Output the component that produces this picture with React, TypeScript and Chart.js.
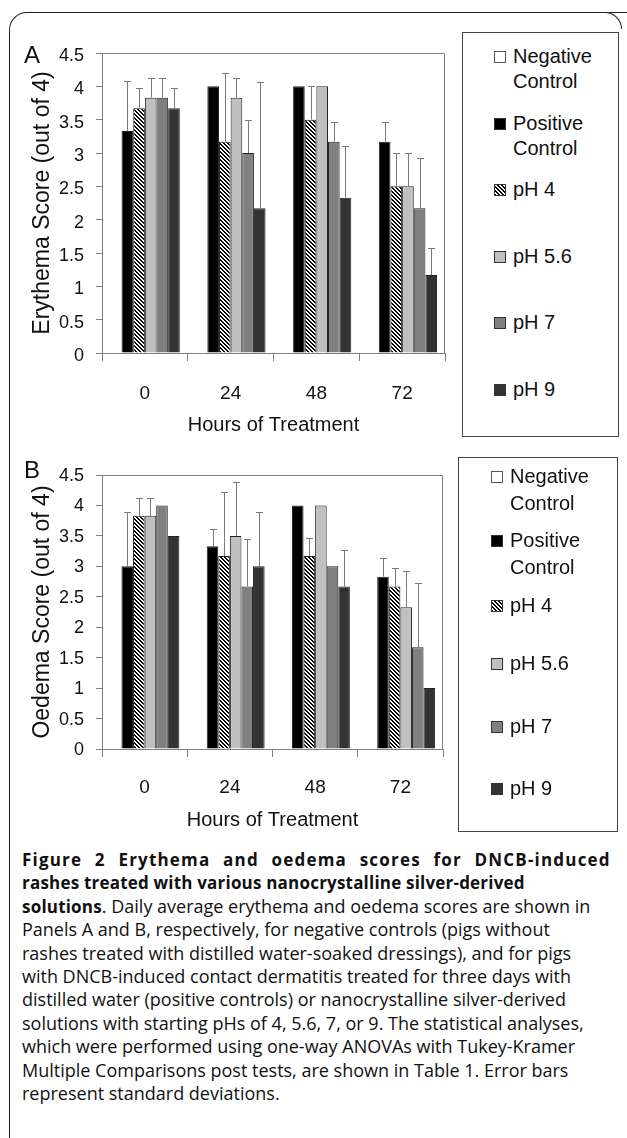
import React, { useEffect, useRef } from 'react';
import { Chart, registerables } from 'chart.js';

Chart.register(...registerables);

// ---------- data ----------
const categories = ['0', '24', '48', '72'];
const seriesNames = ['Negative Control', 'Positive Control', 'pH 4', 'pH 5.6', 'pH 7', 'pH 9'];
const yTickLabels = ['0', '0.5', '1', '1.5', '2', '2.5', '3', '3.5', '4', '4.5'];

// Panel A – erythema
const negA = [0, 0, 0, 0];
const posA = [3.33, 4.0, 4.0, 3.17];
const ph4A = [3.67, 3.17, 3.5, 2.5];
const ph56A = [3.83, 3.83, 4.0, 2.5];
const ph7A = [3.83, 3.0, 3.17, 2.17];
const ph9A = [3.67, 2.17, 2.33, 1.17];
const negAErr = [0, 0, 0, 0];
const posAErr = [0.75, 0, 0, 0.29];
const ph4AErr = [0.3, 1.03, 0.5, 0.5];
const ph56AErr = [0.29, 0.29, 0, 0.5];
const ph7AErr = [0.29, 0.5, 0.29, 0.75];
const ph9AErr = [0.3, 1.89, 0.77, 0.41];

// Panel B – oedema
const negB = [0, 0, 0, 0];
const posB = [3.0, 3.33, 4.0, 2.83];
const ph4B = [3.83, 3.17, 3.17, 2.67];
const ph56B = [3.83, 3.5, 4.0, 2.33];
const ph7B = [4.0, 2.67, 3.0, 1.67];
const ph9B = [3.5, 3.0, 2.67, 1.0];
const negBErr = [0, 0, 0, 0];
const posBErr = [0.89, 0.29, 0, 0.31];
const ph4BErr = [0.29, 1.05, 0.29, 0.31];
const ph56BErr = [0.29, 0.89, 0, 0.6];
const ph7BErr = [0, 0.78, 0, 1.05];
const ph9BErr = [0, 0.89, 0.6, 0];

const captionLines: { bold?: string; text: string; wordSpacing?: number; letterSpacing?: number }[] = [
  { bold: 'Figure 2 Erythema and oedema scores for DNCB-induced', text: '', wordSpacing: 7, letterSpacing: 1.2 },
  { bold: 'rashes treated with various nanocrystalline silver-derived', text: '' },
  { bold: 'solutions', text: '. Daily average erythema and oedema scores are shown in' },
  { text: 'Panels A and B, respectively, for negative controls (pigs without' },
  { text: 'rashes treated with distilled water-soaked dressings), and for pigs' },
  { text: 'with DNCB-induced contact dermatitis treated for three days with' },
  { text: 'distilled water (positive controls) or nanocrystalline silver-derived' },
  { text: 'solutions with starting pHs of 4, 5.6, 7, or 9. The statistical analyses,' },
  { text: 'which were performed using one-way ANOVAs with Tukey-Kramer' },
  { text: 'Multiple Comparisons post tests, are shown in Table 1. Error bars' },
  { text: 'represent standard deviations.' },
];

// ---------- styles ----------
const FONT = "'Liberation Sans', Arial, sans-serif";
const AXIS_GRAY = '#808080';
const fills = ['#ffffff', '#000000', 'HATCH', '#c0c0c0', '#808080', '#333333'];

function makeHatch(): CanvasPattern | string {
  const c = document.createElement('canvas');
  c.width = 4;
  c.height = 4;
  const ctx = c.getContext('2d');
  if (!ctx) return '#888';
  const img = ctx.createImageData(4, 4);
  for (let y = 0; y < 4; y++) {
    for (let x = 0; x < 4; x++) {
      const i = (y * 4 + x) * 4;
      const black = ((x - y + 8) % 4) < 2;
      const v = black ? 0 : 255;
      img.data[i] = v;
      img.data[i + 1] = v;
      img.data[i + 2] = v;
      img.data[i + 3] = 255;
    }
  }
  ctx.putImageData(img, 0, 0);
  return ctx.createPattern(c, 'repeat') || '#888';
}

const errorBarPlugin = {
  id: 'errorBars',
  afterDatasetsDraw(chart: any, _args: any, opts: any) {
    const errs: number[][] = opts.errors || [];
    const ctx = chart.ctx;
    const yScale = chart.scales.y;
    ctx.save();
    ctx.strokeStyle = opts.color || '#777';
    ctx.lineWidth = 1;
    chart.data.datasets.forEach((ds: any, i: number) => {
      const e = errs[i];
      if (!e) return;
      const meta = chart.getDatasetMeta(i);
      meta.data.forEach((bar: any, j: number) => {
        const err = e[j];
        if (!err) return;
        const v = ds.data[j] as number;
        const x = Math.round(bar.x) + 0.5;
        const yTop = Math.round(yScale.getPixelForValue(v + err)) + 0.5;
        ctx.beginPath();
        ctx.moveTo(x, bar.y);
        ctx.lineTo(x, yTop);
        ctx.moveTo(x - 3.5, yTop);
        ctx.lineTo(x + 3.5, yTop);
        ctx.stroke();
      });
    });
    ctx.restore();
  },
};

const framePlugin = {
  id: 'plotFrame',
  beforeDatasetsDraw(chart: any) {
    const { ctx, chartArea } = chart;
    ctx.save();
    ctx.strokeStyle = AXIS_GRAY;
    ctx.lineWidth = 1;
    const t = Math.round(chartArea.top) + 0.5;
    const r = Math.round(chartArea.right) - 0.5;
    ctx.beginPath();
    ctx.moveTo(chartArea.left, t);
    ctx.lineTo(r, t);
    ctx.lineTo(r, chartArea.bottom);
    ctx.stroke();
    ctx.restore();
  },
};

interface PanelSpec {
  values: number[][];
  errors: number[][];
  yTitle: string;
  padTop: number;
  padRight: number;
  padBottom: number;
  xHeight: number;
  xPad: number;
  labelOffset: number;
}

function buildConfig(spec: PanelSpec, hatch: CanvasPattern | string): any {
  return {
    type: 'bar',
    data: {
      labels: categories,
      datasets: spec.values.map((vals, i) => ({
        label: seriesNames[i],
        data: vals,
        backgroundColor: fills[i] === 'HATCH' ? hatch : fills[i],
        borderColor: '#222222',
        borderWidth: 1,
        barPercentage: 1,
        categoryPercentage: 0.815,
      })),
    },
    options: {
      responsive: false,
      animation: false,
      events: [],
      layout: { padding: { left: 0, top: spec.padTop, right: spec.padRight, bottom: spec.padBottom } },
      plugins: {
        legend: { display: false },
        tooltip: { enabled: false },
        errorBars: { errors: spec.errors, color: '#7a7a7a' },
      },
      scales: {
        x: {
          grid: { offset: true, drawOnChartArea: false, drawTicks: true, tickLength: 8, color: AXIS_GRAY },
          border: { color: AXIS_GRAY },
          ticks: { font: { family: FONT, size: 19 }, color: '#111', padding: spec.xPad, maxRotation: 0 },
          title: { display: true, text: 'Hours of Treatment', font: { family: FONT, size: 20 }, color: '#111', padding: 0 },
          afterFit: (s: any) => {
            s.height = spec.xHeight;
          },
        },
        y: {
          min: 0,
          max: 4.5,
          grid: { drawOnChartArea: false, drawTicks: true, tickLength: 6, color: AXIS_GRAY },
          border: { color: AXIS_GRAY },
          ticks: {
            stepSize: 0.5,
            autoSkip: false,
            font: { family: FONT, size: 18 },
            color: '#111',
            padding: 12,
            labelOffset: spec.labelOffset,
            callback: (_v: any, i: number) => yTickLabels[i],
          },
          title: { display: true, text: spec.yTitle, font: { family: FONT, size: 23 }, color: '#111', padding: { top: 29, bottom: 0 } },
          afterFit: (s: any) => {
            s.width = 102;
          },
        },
      },
    },
    plugins: [framePlugin, errorBarPlugin],
  };
}

function Panel({ spec, top, height }: { spec: PanelSpec; top: number; height: number }) {
  const ref = useRef<HTMLCanvasElement>(null);
  useEffect(() => {
    if (!ref.current) return;
    const chart = new Chart(ref.current, buildConfig(spec, makeHatch()));
    return () => chart.destroy();
  }, []);
  return (
    <canvas
      ref={ref}
      width={460}
      height={height}
      style={{ position: 'absolute', left: 0, top, width: 460, height }}
    />
  );
}

function Swatch({ i }: { i: number }) {
  const base: React.CSSProperties = { width: 12, height: 12, boxSizing: 'border-box', border: '1px solid #333' };
  if (fills[i] === 'HATCH') {
    return (
      <div
        style={{
          ...base,
          background: 'repeating-linear-gradient(45deg, #000 0px, #000 1.4px, #fff 1.4px, #fff 2.8px)',
        }}
      />
    );
  }
  return <div style={{ ...base, background: fills[i], borderColor: i === 0 ? '#555' : '#333' }} />;
}

const legendLines = [['Negative', 'Control'], ['Positive', 'Control'], ['pH 4'], ['pH 5.6'], ['pH 7'], ['pH 9']];

function Legend({
  box,
  centers,
  second,
  swatchX,
  textX,
}: {
  box: { left: number; top: number; width: number; height: number };
  centers: number[];
  second: number;
  swatchX: number;
  textX: number;
}) {
  const lh = 24;
  return (
    <>
      <div
        style={{
          position: 'absolute',
          left: box.left,
          top: box.top,
          width: box.width,
          height: box.height,
          border: '1px solid #444',
          boxSizing: 'border-box',
        }}
      />
      {legendLines.map((lines, i) => (
        <React.Fragment key={i}>
          <div style={{ position: 'absolute', left: swatchX, top: centers[i] - 5 }}>
            <Swatch i={i} />
          </div>
          {lines.map((t, k) => (
            <div
              key={k}
              style={{
                position: 'absolute',
                left: textX,
                top: centers[i] + k * second - lh / 2,
                lineHeight: lh + 'px',
                fontSize: 20,
                fontFamily: FONT,
                color: '#111',
                whiteSpace: 'nowrap',
              }}
            >
              {t}
            </div>
          ))}
        </React.Fragment>
      ))}
    </>
  );
}

const specA: PanelSpec = {
  values: [negA, posA, ph4A, ph56A, ph7A, ph9A],
  errors: [negAErr, posAErr, ph4AErr, ph56AErr, ph7AErr, ph9AErr],
  yTitle: 'Erythema Score (out of 4)',
  padTop: 53,
  padRight: 15,
  padBottom: 445 - 437,
  xHeight: 437 - 353,
  xPad: 21,
  labelOffset: 3,
};

const B_TOP = 445;
const specB: PanelSpec = {
  values: [negB, posB, ph4B, ph56B, ph7B, ph9B],
  errors: [negBErr, posBErr, ph4BErr, ph56BErr, ph7BErr, ph9BErr],
  yTitle: 'Oedema Score (out of 4)',
  padTop: 475 - B_TOP,
  padRight: 17,
  padBottom: 845 - 832,
  xHeight: 832 - 749,
  xPad: 19,
  labelOffset: 1,
};

export default function App() {
  return (
    <div
      style={{
        position: 'absolute',
        left: 0,
        top: 0,
        width: 627,
        height: 1138,
        background: '#fff',
        overflow: 'hidden',
      }}
    >
      {/* outer frame */}
      <div
        style={{
          position: 'absolute',
          left: 9,
          top: 12,
          width: 640,
          height: 1200,
          borderLeft: '1.5px solid #222',
          borderTop: '1.5px solid #222',
          borderTopLeftRadius: 18,
        }}
      />
      <div
        style={{
          position: 'absolute',
          left: 603,
          top: 12,
          width: 18,
          height: 16,
          borderRight: '1.5px solid #222',
          borderTop: '1.5px solid #222',
          borderTopRightRadius: 18,
          background: '#fff',
        }}
      />

      <Panel spec={specA} top={0} height={445} />
      <Panel spec={specB} top={B_TOP} height={400} />

      <div style={{ position: 'absolute', left: 24, top: 41, fontSize: 24, lineHeight: '28px', fontFamily: FONT, color: '#111' }}>A</div>
      <div style={{ position: 'absolute', left: 24, top: 456, fontSize: 24, lineHeight: '28px', fontFamily: FONT, color: '#111' }}>B</div>

      <Legend
        box={{ left: 462, top: 32, width: 157, height: 405 }}
        centers={[56, 123, 189, 256, 322, 389]}
        second={25}
        swatchX={494}
        textX={513}
      />
      <Legend
        box={{ left: 458, top: 457, width: 160, height: 375 }}
        centers={[476, 540, 605, 663, 726, 788]}
        second={27}
        swatchX={491}
        textX={510}
      />

      <div
        style={{
          position: 'absolute',
          left: 22,
          top: 848,
          fontFamily: "'Open Sans', sans-serif",
          fontSize: 18,
          lineHeight: '23.4px',
          color: '#111',
          whiteSpace: 'pre',
        }}
      >
        {captionLines.map((l, i) => (
          <div key={i} style={{ wordSpacing: l.wordSpacing || 0 }}>
            {l.bold ? <b style={{ fontSize: 17, letterSpacing: l.letterSpacing ?? 0.2 }}>{l.bold}</b> : null}
            {l.text}
          </div>
        ))}
      </div>
    </div>
  );
}
